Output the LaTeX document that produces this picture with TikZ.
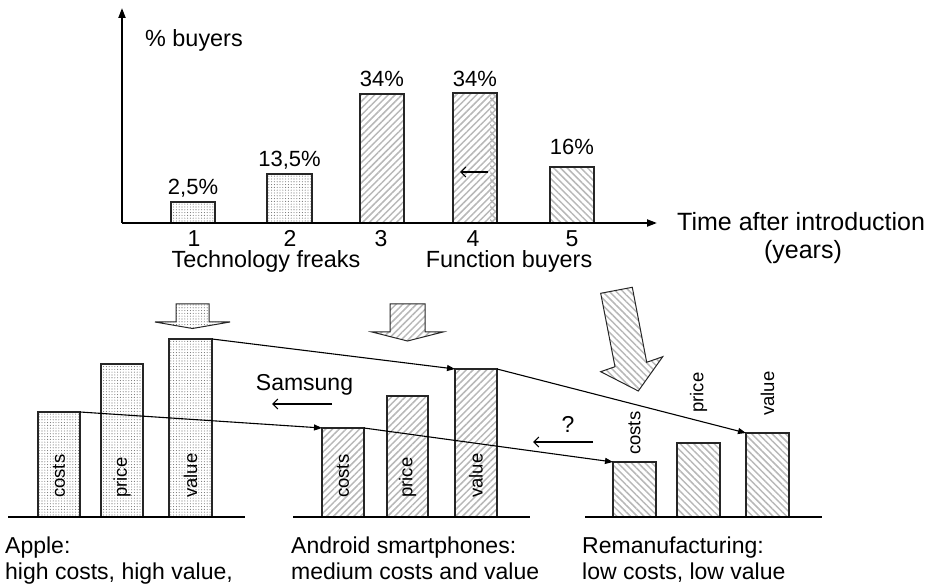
\documentclass[tikz,border=0pt]{standalone}
\usepackage{fontspec}
\setmainfont{Liberation Sans}
\usetikzlibrary{patterns.meta,arrows.meta}
\begin{document}
\begin{tikzpicture}[x=1pt,y=-1pt,
 bar/.style={draw=black!85, line width=1.1pt, inner sep=0pt, outer sep=0pt, anchor=south west},
 dotfill/.style={pattern={Dots[distance=2.8pt,radius=0.55pt]}, pattern color=black!55},
 nehatch/.style={pattern={Lines[angle=45,distance=4.8pt,line width=1.5pt]}, pattern color=black!28},
 nwhatch/.style={pattern={Lines[angle=-45,distance=4.8pt,line width=1.5pt]}, pattern color=black!28},
 txt/.style={font=\fontsize{23}{27}\selectfont, inner sep=0pt},
 pct/.style={font=\fontsize{22}{26}\selectfont, inner sep=0pt},
 big/.style={font=\fontsize{25}{29}\selectfont, inner sep=0pt},
 small/.style={font=\fontsize{18.5}{22}\selectfont, inner sep=0pt},
 conn/.style={line width=1.1pt, -{Triangle[length=8pt,width=6pt]}},
 barb/.style={line width=1.1pt, -{Straight Barb[length=5pt,width=10pt]}},
 axis/.style={line width=2pt, -{Triangle[length=10pt,width=7pt]}},
 blockarrow/.style={draw=black!85, line width=1pt, line join=miter}
]
\useasboundingbox (0,0) rectangle (935,585);

% ---------- top chart ----------
\node[bar,dotfill,minimum width=44pt,minimum height=21pt] (t1) at (171,223) {};
\node[bar,dotfill,minimum width=45pt,minimum height=49pt] (t2) at (267,223) {};
\node[bar,nehatch,minimum width=44pt,minimum height=129pt] (t3) at (360,223) {};
\node[bar,nehatch,minimum width=44pt,minimum height=130pt] (t4) at (453,223) {};
\fill[nwhatch] ([xshift=-7pt]t4.north east) rectangle (t4.south east);
\draw[draw=black!85, line width=1.1pt] (t4.south west) rectangle (t4.north east);
\node[bar,nwhatch,minimum width=44pt,minimum height=56pt] (t5) at (550,223) {};

\coordinate (a41) at (488,172);
\coordinate (a42) at (460,172);
\draw[barb] (a41) -- (a42);

\coordinate (O) at (122,223);
\coordinate (ytop) at (122,8);
\coordinate (xend) at (657,223);
\draw[axis] (O) -- (ytop);
\draw[axis] (O) -- (xend);

\node[txt,font=\fontsize{23.4}{27}\selectfont,anchor=base west] (buy) at (145,47) {\% buyers};
\node[pct,anchor=base] (p1) at (193,195) {2,5\%};
\node[pct,anchor=base] (p2) at (289.5,167) {13,5\%};
\node[pct,anchor=base] (p3) at (382,87) {34\%};
\node[pct,anchor=base] (p4) at (475,86.5) {34\%};
\node[pct,anchor=base] (p5) at (572,155) {16\%};

\node[txt,anchor=base] (n1) at (194,246.5) {1};
\node[txt,anchor=base] (n2) at (290,246.5) {2};
\node[txt,anchor=base] (n3) at (381,246.5) {3};
\node[txt,anchor=base] (n4) at (473,246.5) {4};
\node[txt,anchor=base] (n5) at (572,246.5) {5};
\node[txt,font=\fontsize{23.4}{27}\selectfont,anchor=base] (tech) at (266,268) {Technology freaks};
\node[txt,font=\fontsize{23.4}{27}\selectfont,anchor=base] (func) at (509,268) {Function buyers};
\node[big,anchor=base west] (time) at (677,231) {Time after introduction};
\node[big,anchor=base] (yrs) at (803,259) {(years)};

% ---------- block arrows ----------
\draw[blockarrow,dotfill] (176,304) -- (209,304) -- (209,322) -- (230,322) -- (192.5,328.5) -- (155,322) -- (176,322) -- cycle;
\draw[blockarrow,nehatch] (390,304) -- (425,304) -- (425,332) -- (443,332) -- (407.5,341) -- (372,332) -- (390,332) -- cycle;
\draw[blockarrow,nwhatch] (600.7,293.3) -- (632.3,287.3) -- (646.7,362.3) -- (662.7,356.7) -- (638.3,391) -- (600.7,371.7) -- (615,366.7) -- cycle;

% ---------- bottom groups ----------
\node[bar,dotfill,minimum width=42pt,minimum height=105pt] (ac) at (38,517) {};
\node[bar,dotfill,minimum width=42pt,minimum height=153pt] (ap) at (101,517) {};
\node[bar,dotfill,minimum width=43pt,minimum height=178pt] (av) at (169,517) {};

\node[bar,nehatch,minimum width=42pt,minimum height=89pt] (nc) at (322,517) {};
\node[bar,nehatch,minimum width=41pt,minimum height=121pt] (np) at (387,517) {};
\node[bar,nehatch,minimum width=42pt,minimum height=148pt] (nv) at (455,517) {};

\node[bar,nwhatch,minimum width=43pt,minimum height=55pt] (rc) at (613,517) {};
\node[bar,nwhatch,minimum width=43pt,minimum height=74pt] (rp) at (677,517) {};
\node[bar,nwhatch,minimum width=43pt,minimum height=84pt] (rv) at (746,517) {};

\draw[line width=1.1pt] (8,517) -- (245,517);
\draw[line width=1.1pt] (293,517) -- (530,517);
\draw[line width=1.1pt] (585,517) -- (822,517);

\node[small,rotate=90,anchor=west] (acl) at (59,498) {costs};
\node[small,rotate=90,anchor=west] (apl) at (122,498) {price};
\node[small,rotate=90,anchor=west] (avl) at (190.5,498) {value};
\node[small,rotate=90,anchor=west] (ncl) at (343,498) {costs};
\node[small,rotate=90,anchor=west] (npl) at (407.5,498) {price};
\node[small,rotate=90,anchor=west] (nvl) at (476,498) {value};
\node[small,rotate=90,anchor=west] (rcl) at (634.5,455) {costs};
\node[small,rotate=90,anchor=west] (rpl) at (698.5,413) {price};
\node[small,rotate=90,anchor=west] (rvl) at (767.5,416) {value};

\draw[conn] (av.north east) -- (nv.north west);
\draw[conn] (nv.north east) -- (rv.north west);
\draw[conn] (ac.north east) -- (nc.north west);
\draw[conn] (nc.north east) -- (rc.north west);

\node[txt,anchor=base] (sam) at (304.5,391) {Samsung};
\coordinate (s1) at (332,404);
\coordinate (s2) at (272,404);
\draw[barb] (s1) -- (s2);
\node[txt,anchor=base] (q) at (568,432) {?};
\coordinate (q1) at (593,442);
\coordinate (q2) at (533,442);
\draw[barb] (q1) -- (q2);

\node[txt,anchor=base west] (apl1) at (5,553) {Apple:};
\node[txt,anchor=base west] (apl2) at (5,579) {high costs, high value,};
\node[txt,anchor=base west] (and1) at (291,553) {Android smartphones:};
\node[txt,anchor=base west] (and2) at (291,579) {medium costs and value};
\node[txt,anchor=base west] (rem1) at (582,553) {Remanufacturing:};
\node[txt,anchor=base west] (rem2) at (582,579) {low costs, low value};
\end{tikzpicture}
\end{document}
